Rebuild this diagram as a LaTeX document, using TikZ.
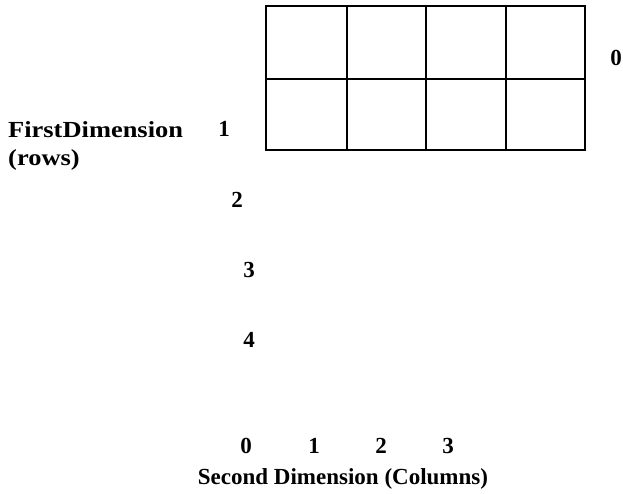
\documentclass[tikz,border=0pt]{standalone}
\usepackage{fontspec}
\setmainfont{Liberation Serif}
\begin{document}
\begin{tikzpicture}[x=1pt,y=-1pt,
  lbl/.style={font=\fontsize{23}{26}\selectfont\bfseries, inner sep=0pt},
  gridline/.style={line width=2pt}]
\useasboundingbox (0,0) rectangle (623,494);
% grid
\draw[gridline] (266,6) rectangle (585,150);
\draw[gridline] (266,79) -- (585,79);
\draw[gridline] (347,6) -- (347,150);
\draw[gridline] (426,6) -- (426,150);
\draw[gridline] (506,6) -- (506,150);
% labels
\node[lbl] (r0) at (616,58) {0};
\node[lbl, anchor=west] (fd) at (8,130) {\scalebox{1.15}[1]{FirstDimension}};
\node[lbl, anchor=west] (rows) at (8,160) {\scalebox{1.15}[1]{(rows)}};
\node[lbl] (r1) at (224,129) {1};
\node[lbl] (r2) at (237,200) {2};
\node[lbl] (r3) at (249,270) {3};
\node[lbl] (r4) at (249,340) {4};
\node[lbl] (c0) at (246,446) {0};
\node[lbl] (c1) at (314,446) {1};
\node[lbl] (c2) at (381,446) {2};
\node[lbl] (c3) at (448,446) {3};
\node[lbl] (sd) at (343,479) {Second Dimension (Columns)};
\end{tikzpicture}
\end{document}
